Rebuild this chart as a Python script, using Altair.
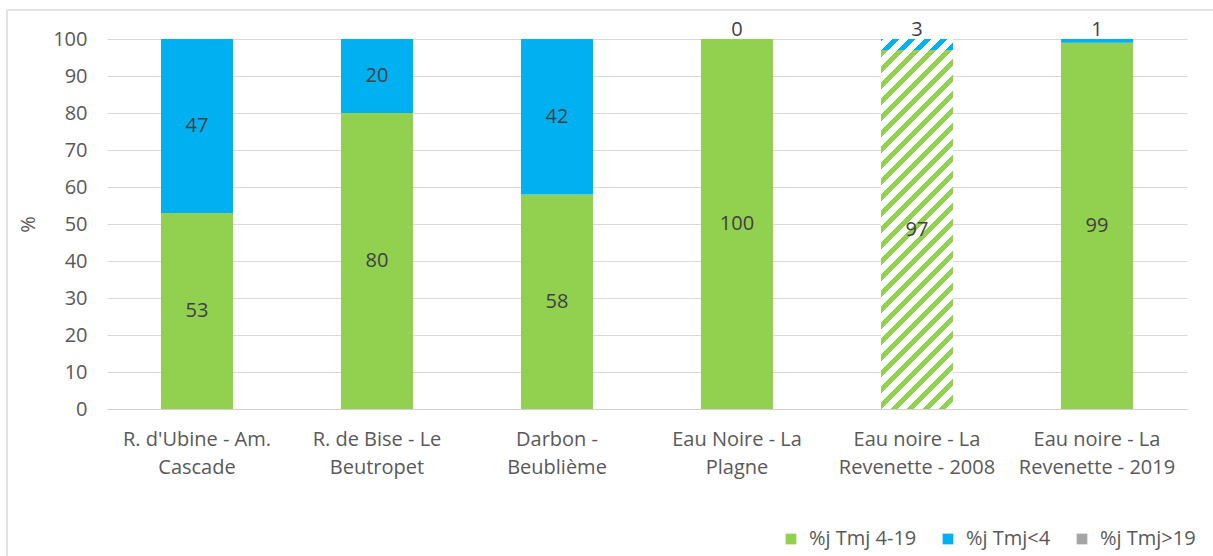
import altair as alt
import pandas as pd

# Sites (the "|" marks the line break in the axis label)
sites = [
    "R. d'Ubine - Am.|Cascade",
    "R. de Bise - Le|Beutropet",
    "Darbon -|Beublième",
    "Eau Noire - La|Plagne",
    "Eau noire - La|Revenette - 2008",
    "Eau noire - La|Revenette - 2019",
]
series = ["%j Tmj 4-19", "%j Tmj<4", "%j Tmj>19"]
pct_4_19 = [53, 80, 58, 100, 97, 99]
pct_lt4 = [47, 20, 42, 0, 3, 1]
pct_gt19 = [0, 0, 0, 0, 0, 0]
hatched_site = "Eau noire - La|Revenette - 2008"
y_ticks = list(range(0, 101, 10))

colors = ["#92D050", "#00B0F0", "#A5A5A5"]
text_color = "#404040"
axis_color = "#595959"
font = "Open Sans"
fs = 20

W, H = 1080, 370
BAR = 72
STRIPE = 16.0

# Stack the three series per site
rows = []
for i, s in enumerate(sites):
    start = 0.0
    for name, vals in zip(series, [pct_4_19, pct_lt4, pct_gt19]):
        v = vals[i]
        rows.append(dict(site=s, series=name, value=v, start=start, end=start + v,
                         mid=start + v / 2, hatched=(s == hatched_site)))
        start += v
df = pd.DataFrame(rows)
bars_df = df[df.series != series[2]]


def hatch(color, w, h, period=STRIPE, frac=0.45, phase=0.0):
    """Diagonal stripes (lower-left to upper-right) as a hard-stop linear gradient."""
    span = w + h
    s = span / (w * w + h * h)
    stops = []
    d = phase - period
    while d < span:
        a, b = d, d + frac * period
        for off, c in ((a, color), (b, color), (b, "white"), (d + period, "white")):
            stops.append((min(max(off / span, 0.0), 1.0), c))
        d += period
    clean, last = [], 0.0
    for o, c in stops:
        o = max(o, last)
        clean.append(alt.GradientStop(offset=o, color=c))
        last = o
    return alt.LinearGradient(gradient="linear", stops=clean, x1=0, y1=0, x2=w * s, y2=h * s)


x_axis = alt.Axis(labelAngle=0, labelExpr="split(datum.label, '|')", ticks=False,
                  labelFontSize=fs, labelColor=axis_color, labelFont=font,
                  labelPadding=20, labelLineHeight=28, labelBaseline="top",
                  domainColor="#D0D0D0", grid=False)
y_axis = alt.Axis(values=y_ticks, ticks=False, domain=False,
                  labelFontSize=fs, labelColor=axis_color, labelFont=font, labelPadding=20,
                  titleFontSize=fs, titleColor=axis_color, titleFont=font,
                  titleFontWeight="normal", titlePadding=14,
                  gridColor="#D9D9D9", gridWidth=1)
x_scale = alt.Scale(paddingInner=0, paddingOuter=0)
y_scale = alt.Scale(domain=[0, 100], nice=False)


def xe():
    return alt.X("site:N", sort=sites, title=None, scale=x_scale, axis=x_axis)


def ye(field):
    return alt.Y(field, scale=y_scale, title="%", axis=y_axis)


color_enc = alt.Color(
    "series:N", sort=series,
    scale=alt.Scale(domain=series, range=colors),
    legend=alt.Legend(title=None, orient="none", direction="horizontal",
                      legendX=674, legendY=490, symbolType="square", symbolSize=115,
                      symbolStrokeWidth=0, labelFontSize=fs, labelColor=axis_color,
                      labelFont=font, columnPadding=21, labelOffset=8),
)

solid = alt.Chart(bars_df[~bars_df.hatched]).mark_bar(size=BAR).encode(
    x=xe(), y=ye("start:Q"), y2="end:Q", color=color_enc
)

layers = [solid]
px = H / 100.0
green_h = pct_4_19[sites.index(hatched_site)] * px
blue_h = pct_lt4[sites.index(hatched_site)] * px
for name, col, h, ph in ((series[0], colors[0], green_h, 0.0),
                         (series[1], colors[1], blue_h, blue_h % STRIPE)):
    sub = bars_df[(bars_df.hatched) & (bars_df.series == name)]
    layers.append(
        alt.Chart(sub).mark_bar(size=BAR, fill=hatch(col, BAR, h, phase=ph)).encode(
            x=xe(), y=ye("start:Q"), y2="end:Q"
        )
    )

big = bars_df[bars_df.value >= 5]
small = bars_df[bars_df.value < 5]
layers.append(
    alt.Chart(big).mark_text(fontSize=fs, color=text_color, font=font, baseline="middle").encode(
        x=xe(), y=ye("mid:Q"), text="value:Q"
    )
)
layers.append(
    alt.Chart(small).mark_text(fontSize=fs, color=text_color, font=font, baseline="middle", dy=-9).encode(
        x=xe(), y=ye("end:Q"), text="value:Q"
    )
)

# Outer frame of the chart (top and left edges)
frame = pd.DataFrame({"k": [0]})
frame_top = alt.Chart(frame).mark_rule(color="#D9D9D9", strokeWidth=1.5).encode(
    x=alt.value(-100), x2=alt.value(1120), y=alt.value(-29)
)
frame_left = alt.Chart(frame).mark_rule(color="#D9D9D9", strokeWidth=1.5).encode(
    x=alt.value(-100), y=alt.value(-29), y2=alt.value(530)
)
layers += [frame_top, frame_left]

chart = alt.layer(*layers).properties(
    width=W, height=H,
    autosize=alt.AutoSizeParams(type="none"),
    padding={"left": 107, "top": 39, "right": 26, "bottom": 147},
    background="white",
).configure_view(stroke=None)

chart.save("out.html", embed_options={"renderer": "svg", "actions": False})
